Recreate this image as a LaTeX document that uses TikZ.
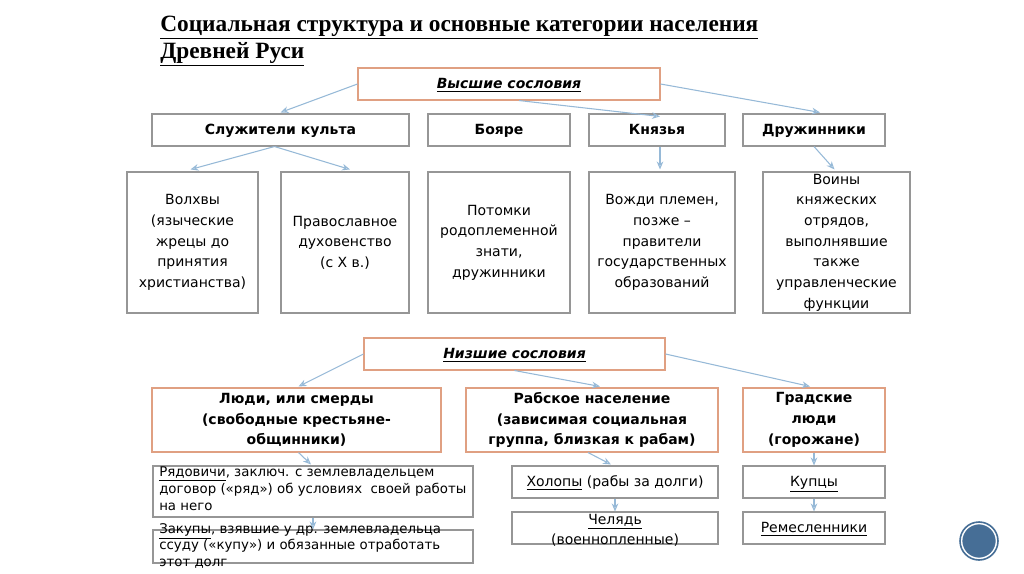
\documentclass[tikz,border=0pt]{standalone}
\usepackage{fontspec}
\setmainfont{DejaVu Sans}
\newfontfamily\titlefont{Liberation Serif}
\usetikzlibrary{arrows.meta,calc}
\definecolor{ob}{RGB}{224,160,130}
\definecolor{gb}{RGB}{150,150,150}
\definecolor{ar}{RGB}{150,185,215}
\definecolor{circ}{RGB}{70,110,150}
\tikzset{
 bx/.style={draw=gb, line width=0.8pt, inner sep=0pt, align=center, font=\fontsize{10.5}{15.5}\selectfont},
 ob/.style={bx, draw=ob},
 hd/.style={font=\bfseries\fontsize{10.5}{13}\selectfont, text height=1.6ex, text depth=0.3ex},
 ar/.style={draw=ar, line width=0.8pt, -{Stealth[length=6pt,width=5pt,open]}},
}
\newcommand{\ux}[1]{\underline{#1}}
\begin{document}
\begin{tikzpicture}[x=0.75pt,y=-0.75pt]
\useasboundingbox (0,0) rectangle (1024,574);
\node[anchor=north west, align=left, font=\titlefont\bfseries\fontsize{17.5}{20}\selectfont, inner sep=0pt] (title) at (160,16)
 {\ux{Социальная структура и основные категории населения}\\\ux{Древней Руси}};
% upper
\node[ob, minimum width=226.5pt, minimum height=24pt, hd, font=\bfseries\itshape\fontsize{10.5}{13}\selectfont] (vs) at (509,84) {\ux{Высшие сословия}};
\node[bx, minimum width=192.75pt, minimum height=24pt, hd] (sk) at (280.5,130) {Служители культа};
\node[bx, minimum width=106.5pt, minimum height=24pt, hd] (bo) at (499,130) {Бояре};
\node[bx, minimum width=102pt, minimum height=24pt, hd] (kn) at (657,130) {Князья};
\node[bx, minimum width=106.5pt, minimum height=24pt, hd] (dr) at (814,130) {Дружинники};
\node[bx, minimum width=98.25pt, minimum height=105.75pt] (vo) at (192.5,242.5) {Волхвы\\(языческие\\жрецы до\\принятия\\христианства)};
\node[bx, minimum width=96pt, minimum height=105.75pt] (pr) at (345,242.5) {Православное\\духовенство\\(с X в.)};
\node[bx, minimum width=106.5pt, minimum height=105.75pt] (po) at (499,242.5) {Потомки\\родоплеменной\\знати,\\дружинники};
\node[bx, minimum width=109.5pt, minimum height=105.75pt] (vz) at (662,242.5) {Вожди племен,\\позже –\\правители\\государственных\\образований};
\node[bx, minimum width=110.25pt, minimum height=105.75pt] (vn) at (836.5,242.5) {Воины\\княжеских\\отрядов,\\выполнявшие\\также\\управленческие\\функции};
% lower
\node[ob, minimum width=225.75pt, minimum height=24pt, hd, font=\bfseries\itshape\fontsize{10.5}{13}\selectfont] (ns) at (514.5,354) {\ux{Низшие сословия}};
\node[ob, minimum width=216.75pt, minimum height=48pt, font=\bfseries\fontsize{10.5}{15.5}\selectfont] (lu) at (296.5,420) {Люди, или смерды\\(свободные крестьяне-\\общинники)};
\node[ob, minimum width=189pt, minimum height=48pt, font=\bfseries\fontsize{10.5}{15.5}\selectfont] (ra) at (592,420) {Рабское население\\(зависимая социальная\\группа, близкая к рабам)};
\node[ob, minimum width=106.5pt, minimum height=48pt, font=\bfseries\fontsize{10.5}{15.5}\selectfont] (gr) at (814,420) {Градские\\люди\\(горожане)};
\node[bx, minimum width=240pt, minimum height=38.25pt] (rd) at (313,491.5) {};
\node[anchor=north west, align=left, inner sep=0pt, font=\fontsize{10}{12.4}\selectfont] (rdt) at (159,467) {\ux{Рядовичи}, заключ. с землевладельцем\\договор («ряд») об условиях\ \ своей работы\\на него};
\node[bx, minimum width=240pt, minimum height=24.75pt] (za) at (313,546.5) {};
\node[anchor=north west, align=left, inner sep=0pt, font=\fontsize{10}{12.4}\selectfont] (zat) at (159,523) {\ux{Закупы}, взявшие у др. землевладельца\\ссуду («купу») и обязанные отработать\\этот долг};
\node[bx, minimum width=154.5pt, minimum height=24pt, hd, font=\fontsize{10.5}{13}\selectfont] (xo) at (615,482) {\ux{Холопы} (рабы за долги)};
\node[bx, minimum width=154.5pt, minimum height=24pt] (ch) at (615,528) {};
\node[align=center, inner sep=0pt, font=\fontsize{10.5}{15}\selectfont] (cht) at (615,530) {\ux{Челядь}\\(военнопленные)};
\node[bx, minimum width=106.5pt, minimum height=24pt, hd, font=\fontsize{10.5}{13}\selectfont] (ku) at (814,482) {\ux{Купцы}};
\node[bx, minimum width=106.5pt, minimum height=24pt, hd, font=\fontsize{10.5}{13}\selectfont] (re) at (814,528) {\ux{Ремесленники}};
\node[circle, fill=circ, draw=white, line width=1pt, minimum size=26pt, inner sep=0pt] (ci) at (979,541) {};
\draw[circ, line width=1.2pt] (ci) circle (19);
% arrows
\draw[ar] (vs.west) -- ($(sk.north)+(0,-1)$);
\draw[ar] ($(vs.south)+(10,0)$) -- ($(kn.north)+(3,3)$);
\draw[ar] (vs.east) -- ($(dr.north)+(6,-1)$);
\draw[ar] ($(sk.south)+(-6,0)$) -- ($(vo.north)+(-2,-2)$);
\draw[ar] ($(sk.south)+(-6,0)$) -- ($(pr.north)+(5,-2)$);
\draw[ar] ($(kn.south)+(3,0)$) -- ($(vz.north)+(-2,-2)$);
\draw[ar] ($(dr.south)+(0,0)$) -- ($(vn.north)+(-2,-2)$);
\draw[ar] (ns.west) -- ($(lu.north)+(2,-1)$);
\draw[ar] ($(ns.south)+(0,0)$) -- ($(ra.north)+(8,-1)$);
\draw[ar] (ns.east) -- ($(gr.north)+(-4,-1)$);
\draw[ar] ($(lu.south)+(2,0)$) -- ($(rd.north)+(-2,-1)$);
\draw[ar] (rd.south) -- (za.north);
\draw[ar] ($(ra.south)+(-4,0)$) -- ($(xo.north)+(-4,-1)$);
\draw[ar] (xo.south) -- (ch.north);
\draw[ar] (gr.south) -- (ku.north);
\draw[ar] (ku.south) -- (re.north);
\end{tikzpicture}
\end{document}
